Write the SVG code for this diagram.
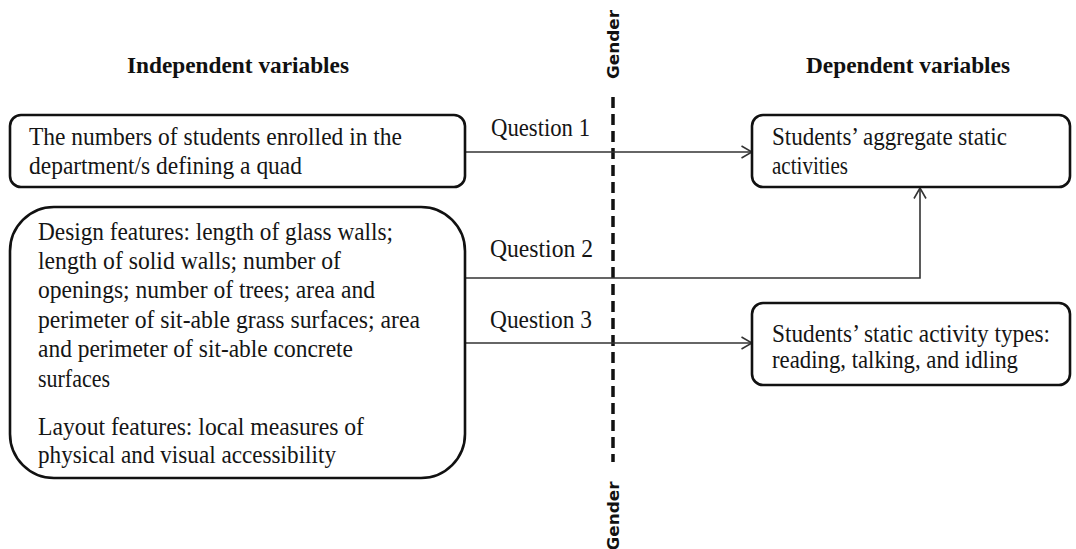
<svg xmlns="http://www.w3.org/2000/svg" width="1076" height="549" viewBox="0 0 1076 549">
  <style>
    .box { fill: #ffffff; stroke: #111111; stroke-width: 2.6; }
    .t { font-family: "Liberation Serif", "Times New Roman", serif; font-size: 25px; fill: #151515; }
    .h { font-family: "Liberation Serif", "Times New Roman", serif; font-size: 24px; font-weight: bold; fill: #111111; }
    .g { font-family: "DejaVu Sans", "Liberation Sans", sans-serif; font-size: 16px; font-weight: bold; fill: #111111; }
    .conn { fill: none; stroke: #333333; stroke-width: 1.6; }
    .dash { fill: none; stroke: #111111; stroke-width: 3.5; stroke-dasharray: 11 6; }
  </style>
  <defs>
    <marker id="arr" viewBox="0 0 12 14" refX="11.5" refY="7" markerWidth="12" markerHeight="14" markerUnits="userSpaceOnUse" orient="auto">
      <path d="M1,1 L11.5,7 L1,13" fill="none" stroke="#333333" stroke-width="1.6"/>
    </marker>
  </defs>
  <rect width="1076" height="549" fill="#ffffff"/>

  <g id="headings">
    <text class="h" x="127" y="73" textLength="222" lengthAdjust="spacingAndGlyphs">Independent variables</text>
    <text class="h" x="806" y="73" textLength="204" lengthAdjust="spacingAndGlyphs">Dependent variables</text>
  </g>

  <g id="gender-divider">
    <line class="dash" x1="613" y1="97" x2="613" y2="462"/>
    <text class="g" transform="translate(619,44.5) rotate(-90)" text-anchor="middle" textLength="69" lengthAdjust="spacingAndGlyphs">Gender</text>
    <text class="g" transform="translate(619,516) rotate(-90)" text-anchor="middle" textLength="69" lengthAdjust="spacingAndGlyphs">Gender</text>
  </g>

  <g id="connectors">
    <line class="conn" x1="465" y1="152" x2="752" y2="152" marker-end="url(#arr)"/>
    <polyline class="conn" points="465,278 920,278 920,188" marker-end="url(#arr)"/>
    <line class="conn" x1="465" y1="343" x2="752" y2="343" marker-end="url(#arr)"/>
    <text class="t" x="491" y="136" textLength="99" lengthAdjust="spacingAndGlyphs">Question  1</text>
    <text class="t" x="490" y="257" textLength="103" lengthAdjust="spacingAndGlyphs">Question  2</text>
    <text class="t" x="490" y="328" textLength="102" lengthAdjust="spacingAndGlyphs">Question  3</text>
  </g>

  <g id="node-students-enrolled">
    <rect class="box" x="10" y="115" width="455" height="72" rx="11"/>
    <text class="t" x="29" y="145" textLength="373" lengthAdjust="spacingAndGlyphs">The numbers of students enrolled in the</text>
    <text class="t" x="29" y="174" textLength="273" lengthAdjust="spacingAndGlyphs">department/s defining a quad</text>
  </g>

  <g id="node-features">
    <rect class="box" x="10" y="207" width="455" height="271" rx="44"/>
    <text class="t" x="38" y="240" textLength="355" lengthAdjust="spacingAndGlyphs">Design features: length of glass walls;</text>
    <text class="t" x="38" y="269" textLength="303" lengthAdjust="spacingAndGlyphs">length of solid walls; number of</text>
    <text class="t" x="38" y="298" textLength="337" lengthAdjust="spacingAndGlyphs">openings; number of trees; area and</text>
    <text class="t" x="38" y="328" textLength="382" lengthAdjust="spacingAndGlyphs">perimeter of sit-able grass surfaces; area</text>
    <text class="t" x="38" y="357" textLength="315" lengthAdjust="spacingAndGlyphs">and perimeter of sit-able concrete</text>
    <text class="t" x="38" y="387" textLength="72" lengthAdjust="spacingAndGlyphs">surfaces</text>
    <text class="t" x="38" y="435" textLength="326" lengthAdjust="spacingAndGlyphs">Layout features: local measures of</text>
    <text class="t" x="38" y="463" textLength="298" lengthAdjust="spacingAndGlyphs">physical and visual accessibility</text>
  </g>

  <g id="node-aggregate">
    <rect class="box" x="752" y="115" width="318" height="72" rx="11"/>
    <text class="t" x="772" y="145" textLength="235" lengthAdjust="spacingAndGlyphs">Students’ aggregate static</text>
    <text class="t" x="772" y="174" textLength="76" lengthAdjust="spacingAndGlyphs">activities</text>
  </g>

  <g id="node-activity-types">
    <rect class="box" x="752" y="303" width="318" height="82" rx="11"/>
    <text class="t" x="772" y="342" textLength="278" lengthAdjust="spacingAndGlyphs">Students’ static activity types:</text>
    <text class="t" x="772" y="368" textLength="246" lengthAdjust="spacingAndGlyphs">reading, talking, and idling</text>
  </g>
</svg>
